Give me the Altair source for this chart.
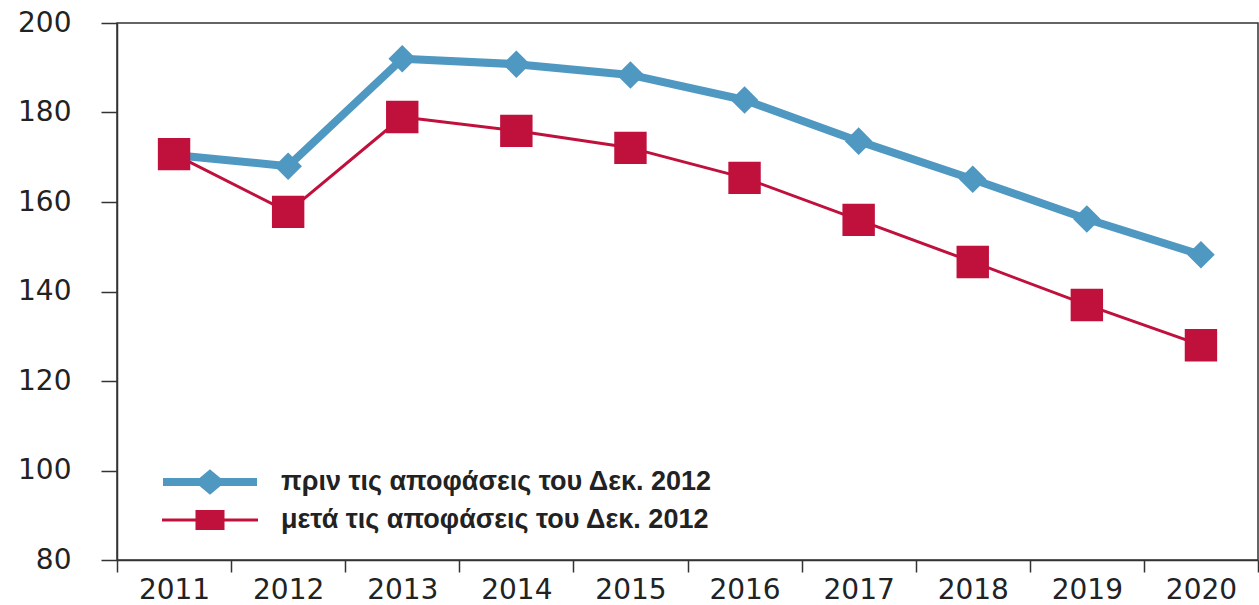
import altair as alt
import pandas as pd

years = ["2011", "2012", "2013", "2014", "2015", "2016", "2017", "2018", "2019", "2020"]
before = [170.5, 168.0, 192.0, 190.8, 188.4, 182.8, 173.6, 165.1, 156.2, 148.2]
after = [170.7, 157.8, 179.0, 175.9, 172.1, 165.4, 156.0, 146.6, 137.0, 128.0]
series_names = ["πριν τις αποφάσεις του Δεκ. 2012", "μετά τις αποφάσεις του Δεκ. 2012"]
colors = ["#4f98c2", "#c0103c"]

rows = []
for y, b, a in zip(years, before, after):
    rows.append({"year": y, "value": b, "series": series_names[0]})
    rows.append({"year": y, "value": a, "series": series_names[1]})
df = pd.DataFrame(rows)

path_before = "M-0.94,0H0.94M0,-0.15L0.18,0L0,0.15L-0.18,0Z"
path_after = "M-0.96,0H0.96M-0.26,-0.17H0.26V0.17H-0.26Z"

x = alt.X("year:N", sort=years, title=None,
          scale=alt.Scale(paddingInner=0, paddingOuter=0),
          axis=alt.Axis(tickBand="extent", labelAngle=0, tickSize=12, labelPadding=4,
                        labelFont="DejaVu Sans", labelFontSize=28, labelColor="#222",
                        domainColor="#333", tickColor="#333", domainWidth=1.5, tickWidth=1.5,
                        grid=False))
y = alt.Y("value:Q", title=None,
          scale=alt.Scale(domain=[80, 200], nice=False, zero=False),
          axis=alt.Axis(values=[80, 100, 120, 140, 160, 180, 200], tickSize=16, labelPadding=30,
                        labelFont="DejaVu Sans", labelFontSize=28, labelColor="#222",
                        domainColor="#333", tickColor="#333", domainWidth=1.5, tickWidth=1.5,
                        grid=False))

legend = alt.Legend(
    title=None, orient="none", legendX=39, legendY=440,
    direction="vertical", padding=0, rowPadding=0,
    symbolSize=10000, clipHeight=38, labelLimit=0,
    symbolType=alt.ExprRef(expr="datum.index === 0 ? '" + path_before + "' : '" + path_after + "'"),
    symbolStrokeWidth=alt.ExprRef(expr="datum.index === 0 ? 8 : 3"),
    symbolStrokeColor=alt.ExprRef(expr="scale('color', datum.value)"),
    symbolFillColor=alt.ExprRef(expr="scale('color', datum.value)"),
    symbolOpacity=1,
    labelFont="Liberation Sans", labelFontWeight="bold",
    labelFontSize=27, labelColor="#222", labelOffset=17)

color = alt.Color("series:N", sort=series_names,
                  scale=alt.Scale(domain=series_names, range=colors),
                  legend=legend)

base = alt.Chart(df)

lines = base.mark_line(strokeCap="round", strokeJoin="round").encode(
    x=x, y=y, color=color,
    strokeWidth=alt.StrokeWidth("series:N", scale=alt.Scale(domain=series_names, range=[8, 3]), legend=None),
)
points_before = base.transform_filter(alt.datum.series == series_names[0]).mark_point(
    filled=True, opacity=1, shape="diamond", size=760).encode(x=x, y=y, color=color)
points_after = base.transform_filter(alt.datum.series == series_names[1]).mark_point(
    filled=True, opacity=1, shape="square", size=1050).encode(x=x, y=y, color=color)

chart = alt.layer(lines, points_before, points_after).properties(
    width=1141, height=537,
    autosize=alt.AutoSizeParams(type="none"),
    padding={"left": 117, "top": 23, "right": 1, "bottom": 45},
    background="white",
).configure_view(stroke="#333", strokeWidth=1.5)

chart.save("out.html", embed_options={"renderer": "svg", "actions": False})
